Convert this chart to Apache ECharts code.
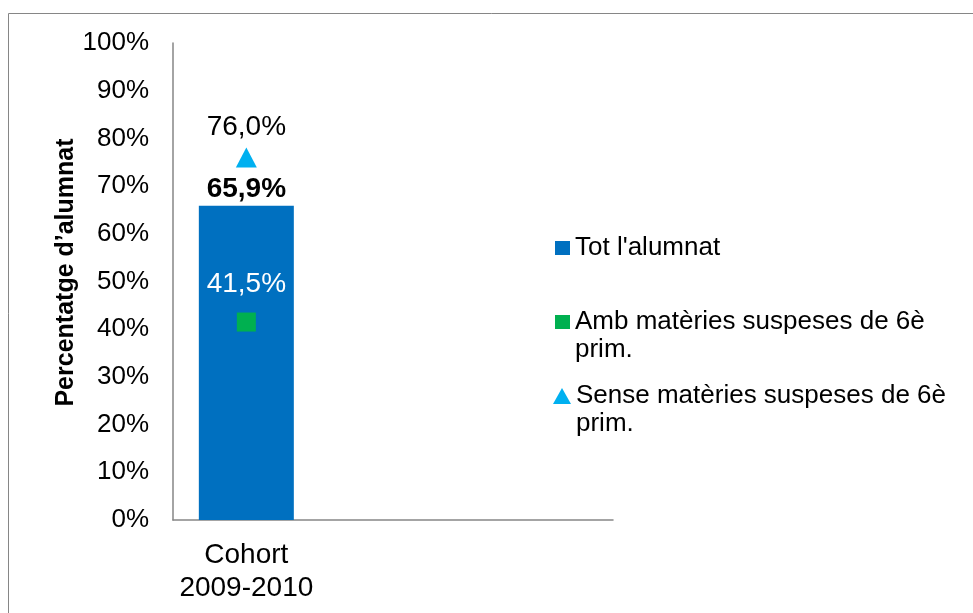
<!DOCTYPE html>
<html>
<head>
<meta charset="utf-8">
<script src="https://cdn.jsdelivr.net/npm/echarts@6/dist/echarts.min.js"></script>
<style>
    html, body { margin: 0; padding: 0; background: #fff; }
    #chart { width: 973px; height: 613px; }
</style>
</head>
<body>
<div id="chart"></div>
<script>
    // categories (only the first one holds data, the rest keep the plot wide like the original)
    var categories = ['Cohort\n2009-2010', '', ''];
    var totAlumnat = [65.9, null, null];
    var ambSuspeses = [41.5, '-', '-'];
    var senseSuspeses = [76.0, '-', '-'];
    var seriesNames = ["Tot l'alumnat", 'Amb matèries suspeses de 6è prim.', 'Sense matèries suspeses de 6è prim.'];
    // leading blank line keeps the legend icon next to the first line of text
    var legendLabels = ["Tot l'alumnat", '\nAmb matèries suspeses de 6è\nprim.', '\nSense matèries suspeses de 6è\nprim.'];

    function pct(v) {
        return v.toFixed(1).replace('.', ',') + '%';
    }

    var font = 'Liberation Sans, Arial, sans-serif';
    var myChart = echarts.init(document.getElementById('chart'));
    var legendBase = {
        orient: 'vertical',
        left: 555,
        padding: 0,
        itemWidth: 15,
        itemHeight: 14,
        itemGap: 0,
        selectedMode: false,
        textStyle: {fontFamily: font, fontSize: 26, color: '#000', lineHeight: 28}
    };
    var option = {
        animation: false,
        textStyle: {fontFamily: font},
        graphic: [{
            type: 'rect',
            shape: {x: 8.5, y: 13.5, width: 1200, height: 800},
            style: {fill: 'none', stroke: '#868686', lineWidth: 1},
            silent: true
        }],
        grid: {
            left: 173,
            right: 360,
            top: 43,
            bottom: 93
        },
        legend: [
            Object.assign({}, legendBase, {
                top: 234,
                data: [{name: seriesNames[0], icon: 'rect'}],
                formatter: function () { return legendLabels[0]; }
            }),
            Object.assign({}, legendBase, {
                top: 280,
                data: [{name: seriesNames[1], icon: 'rect'}],
                formatter: function () { return legendLabels[1]; }
            }),
            Object.assign({}, legendBase, {
                top: 354,
                left: 553,
                itemWidth: 18,
                itemHeight: 16,
                data: [{name: seriesNames[2], icon: 'triangle'}],
                formatter: function () { return legendLabels[2]; }
            })
        ],
        xAxis: {
            type: 'category',
            data: categories,
            axisTick: {show: false},
            axisLine: {lineStyle: {color: '#868686', width: 1.5}},
            axisLabel: {
                color: '#000',
                fontSize: 28,
                lineHeight: 33,
                margin: 19,
                interval: 0
            }
        },
        yAxis: {
            type: 'value',
            min: 0,
            max: 100,
            interval: 10,
            name: 'Percentatge d’alumnat',
            nameLocation: 'middle',
            nameGap: 88,
            nameTextStyle: {fontSize: 25, fontWeight: 'bold', color: '#000', padding: [0, 0, 0, 18]},
            axisLine: {show: true, lineStyle: {color: '#868686', width: 1.5}},
            axisTick: {show: false},
            splitLine: {show: false},
            axisLabel: {
                color: '#000',
                fontSize: 26,
                margin: 24,
                formatter: '{value}%'
            }
        },
        series: [
            {
                name: seriesNames[0],
                type: 'bar',
                data: totAlumnat,
                barWidth: 95,
                itemStyle: {color: '#0070C0'},
                label: {
                    show: true,
                    position: 'top',
                    distance: 2,
                    fontSize: 28,
                    fontWeight: 'bold',
                    color: '#000',
                    formatter: function (p) { return pct(p.value); }
                }
            },
            {
                name: seriesNames[1],
                type: 'line',
                data: ambSuspeses,
                symbol: 'rect',
                symbolSize: 19,
                lineStyle: {width: 0},
                itemStyle: {color: '#00B050'},
                label: {
                    show: true,
                    position: 'top',
                    distance: 14,
                    fontSize: 28,
                    color: '#fff',
                    formatter: function (p) { return pct(p.value); }
                }
            },
            {
                name: seriesNames[2],
                type: 'line',
                data: senseSuspeses,
                symbol: 'triangle',
                symbolSize: [21, 20],
                lineStyle: {width: 0},
                itemStyle: {color: '#00B0F0'},
                label: {
                    show: true,
                    position: 'top',
                    distance: 6,
                    fontSize: 28,
                    color: '#000',
                    formatter: function (p) { return pct(p.value); }
                }
            }
        ]
    };
    myChart.setOption(option, true);
</script>
</body>
</html>
